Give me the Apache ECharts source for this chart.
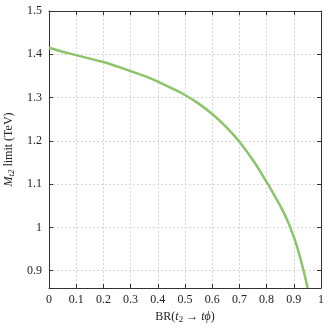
<!DOCTYPE html>
<html><head><meta charset="utf-8">
<script src="https://cdn.jsdelivr.net/npm/echarts@6/dist/echarts.min.js"></script>
<style>html,body{margin:0;padding:0;background:#fff}#c{width:325px;height:325px}</style>
</head><body><div id="c"></div>
<script>
const brValues = [0, 0.05, 0.1, 0.15, 0.2, 0.25, 0.3, 0.35, 0.4, 0.45, 0.5, 0.55, 0.6, 0.65, 0.7, 0.75, 0.8, 0.825, 0.85, 0.875, 0.9, 0.92, 0.935, 0.951];
const massLimit = [1.415, 1.406, 1.398, 1.390, 1.382, 1.372, 1.361, 1.350, 1.337, 1.322, 1.306, 1.286, 1.262, 1.233, 1.198, 1.155, 1.105, 1.078, 1.050, 1.018, 0.978, 0.938, 0.902, 0.86];
const xTicks = [0, 0.1, 0.2, 0.3, 0.4, 0.5, 0.6, 0.7, 0.8, 0.9, 1];
const yTicks = [0.9, 1, 1.1, 1.2, 1.3, 1.4, 1.5];

const font = '"Liberation Serif", "DejaVu Serif", serif';
const axisCol = '#333';
const chart = echarts.init(document.getElementById('c'), null, {renderer: 'canvas'});
const common = {
  axisLine: {show: true, onZero: false, lineStyle: {color: axisCol, width: 1}},
  axisTick: {show: true, inside: true, length: 4, lineStyle: {color: axisCol}},
};
const fs = 12;
chart.setOption({
  animation: false,
  grid: {left: 49, right: 4, top: 11, bottom: 37, outerBoundsMode: 'none', containLabel: false},
  xAxis: [{
    type: 'value', min: 0, max: 1, interval: 0.1, position: 'bottom',
    ...common,
    axisLabel: {color: '#222', fontFamily: font, fontSize: fs, margin: 6,
      formatter: v => xTicks.some(t => Math.abs(t - v) < 1e-9) ? String(+v.toFixed(1)) : ''},
    splitLine: {show: true, lineStyle: {color: '#d8d8d8', type: [2, 2], width: 1}},
    name: '{n|BR(}{i|t}{s|2}{n| \u2192 }{i|t\u03d5}{n|)}',
    nameLocation: 'middle', nameGap: 21,
    nameTextStyle: {fontFamily: font, fontSize: fs, color: '#222',
      rich: {n: {fontFamily: font, fontSize: fs, color: '#222'},
             i: {fontFamily: font, fontSize: fs, fontStyle: 'italic', color: '#222'},
             s: {fontFamily: font, fontSize: 9, color: '#222', padding: [5, 0, 0, 0]}}}
  }, {
    type: 'value', min: 0, max: 1, interval: 0.1, position: 'top',
    ...common, axisLabel: {show: false}, splitLine: {show: false}
  }],
  yAxis: [{
    type: 'value', min: 0.86, max: 1.5, splitNumber: 6, position: 'left',
    ...common,
    axisLabel: {color: '#222', fontFamily: font, fontSize: fs, margin: 7, showMinLabel: false,
      formatter: v => yTicks.some(t => Math.abs(t - v) < 1e-9) ? String(+v.toFixed(1)) : ''},
    splitLine: {show: true, lineStyle: {color: '#d8d8d8', type: [2, 2], width: 1}},
    name: '{i|M}{s|t2}{n| limit (TeV)}',
    nameLocation: 'middle', nameGap: 33, nameRotate: 90,
    nameTextStyle: {fontFamily: font, fontSize: fs, color: '#222',
      rich: {n: {fontFamily: font, fontSize: fs, color: '#222'},
             i: {fontFamily: font, fontSize: fs, fontStyle: 'italic', color: '#222'},
             s: {fontFamily: font, fontSize: 9, fontStyle: 'italic', color: '#222', padding: [5, 0, 0, 0]}}}
  }, {
    type: 'value', min: 0.86, max: 1.5, splitNumber: 6, position: 'right',
    ...common, axisLabel: {show: false}, splitLine: {show: false}
  }],
  series: [{
    type: 'line', smooth: 0.4, showSymbol: false,
    data: brValues.map((x, i) => [x, massLimit[i]]),
    lineStyle: {color: '#8cc46c', width: 2.5},
    clip: true
  }]
});
</script></body></html>
